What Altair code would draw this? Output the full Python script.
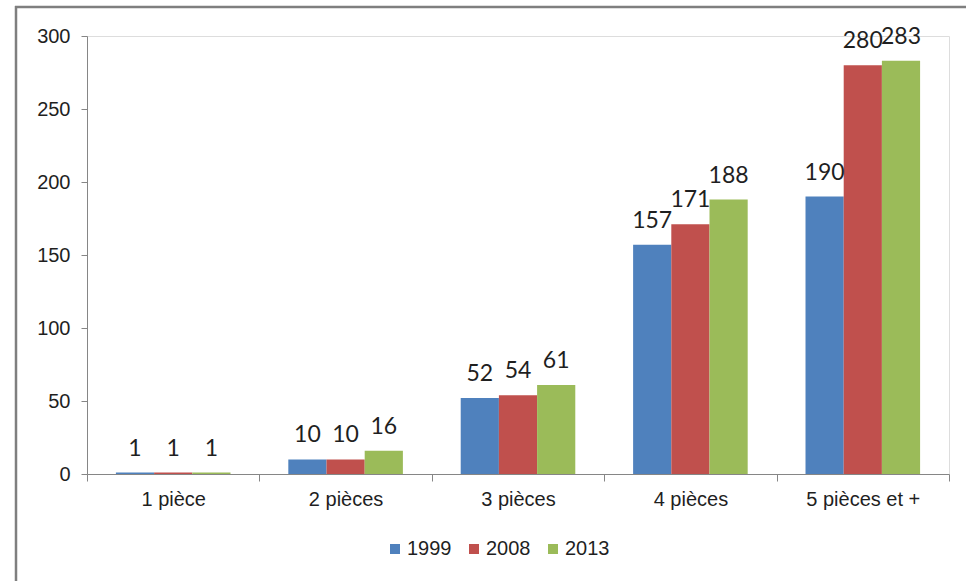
import altair as alt
import pandas as pd

# Nombre de logements selon le nombre de pièces
categories = ["1 pièce", "2 pièces", "3 pièces", "4 pièces", "5 pièces et +"]
years = ["1999", "2008", "2013"]
v1999 = [1, 10, 52, 157, 190]
v2008 = [1, 10, 54, 171, 280]
v2013 = [1, 16, 61, 188, 283]
colors = ["#4F81BD", "#C0504D", "#9BBB59"]

rows = []
for year, series in zip(years, [v1999, v2008, v2013]):
    for cat, val in zip(categories, series):
        rows.append({"pieces": cat, "annee": year, "valeur": val})
df = pd.DataFrame(rows)

AXIS_GREY = "#868686"
TEXT = "#1f1f1f"

x_enc = alt.X(
    "pieces:N",
    sort=categories,
    title=None,
    scale=alt.Scale(paddingInner=0, paddingOuter=0),
    axis=alt.Axis(
        labelAngle=0,
        tickBand="extent",
        tickSize=7,
        labelPadding=8,
        labelFontSize=20,
        labelFont="Liberation Sans",
        labelColor=TEXT,
        domainColor=AXIS_GREY,
        tickColor=AXIS_GREY,
        grid=False,
    ),
)
xoff_enc = alt.XOffset(
    "annee:N",
    sort=years,
    scale=alt.Scale(paddingInner=0, paddingOuter=0.757),
)
y_enc = alt.Y(
    "valeur:Q",
    title=None,
    scale=alt.Scale(domain=[0, 300], nice=False),
    axis=alt.Axis(
        values=[0, 50, 100, 150, 200, 250, 300],
        tickSize=6,
        labelPadding=11,
        labelFontSize=20,
        labelFont="Liberation Sans",
        labelColor=TEXT,
        domainColor=AXIS_GREY,
        tickColor=AXIS_GREY,
        grid=False,
    ),
)

bars = alt.Chart(df).mark_bar(strokeWidth=0).encode(
    x=x_enc,
    xOffset=xoff_enc,
    y=y_enc,
    color=alt.Color(
        "annee:N",
        sort=years,
        scale=alt.Scale(domain=years, range=colors),
        legend=alt.Legend(
            title=None,
            orient="none",
            direction="horizontal",
            legendX=298,
            legendY=503,
            symbolType="square",
            symbolSize=100,
            symbolStrokeWidth=0,
            labelFontSize=20,
            labelFont="Liberation Sans",
            labelColor=TEXT,
            labelOffset=2,
            columnPadding=12,
        ),
    ),
)

labels = alt.Chart(df).mark_text(
    baseline="alphabetic",
    align="center",
    dy=-17,
    fontSize=23,
    font="Lato",
    color=TEXT,
).encode(
    x=alt.X("pieces:N", sort=categories),
    xOffset=alt.XOffset("annee:N", sort=years),
    y="valeur:Q",
    text="valeur:Q",
)

# cadre gris (bords gauche et haut)
frame_src = alt.Data(values=[{"k": 0}])
frame_left = alt.Chart(frame_src).mark_rule(color="#7f7f7f", strokeWidth=2.5).encode(
    x=alt.value(-71), y=alt.value(-30), y2=alt.value(545)
)
frame_top = alt.Chart(frame_src).mark_rule(color="#7f7f7f", strokeWidth=2.5).encode(
    x=alt.value(-72), x2=alt.value(880), y=alt.value(-29)
)

chart = (
    alt.layer(bars, labels, frame_left, frame_top)
    .properties(
        width=862,
        height=438,
        autosize=alt.AutoSizeParams(type="none"),
        padding={"left": 87, "top": 36, "right": 17, "bottom": 107},
    )
    .configure_view(stroke=None)
    .configure(background="white")
)

chart.save("out.html", embed_options={"renderer": "svg", "actions": False})
